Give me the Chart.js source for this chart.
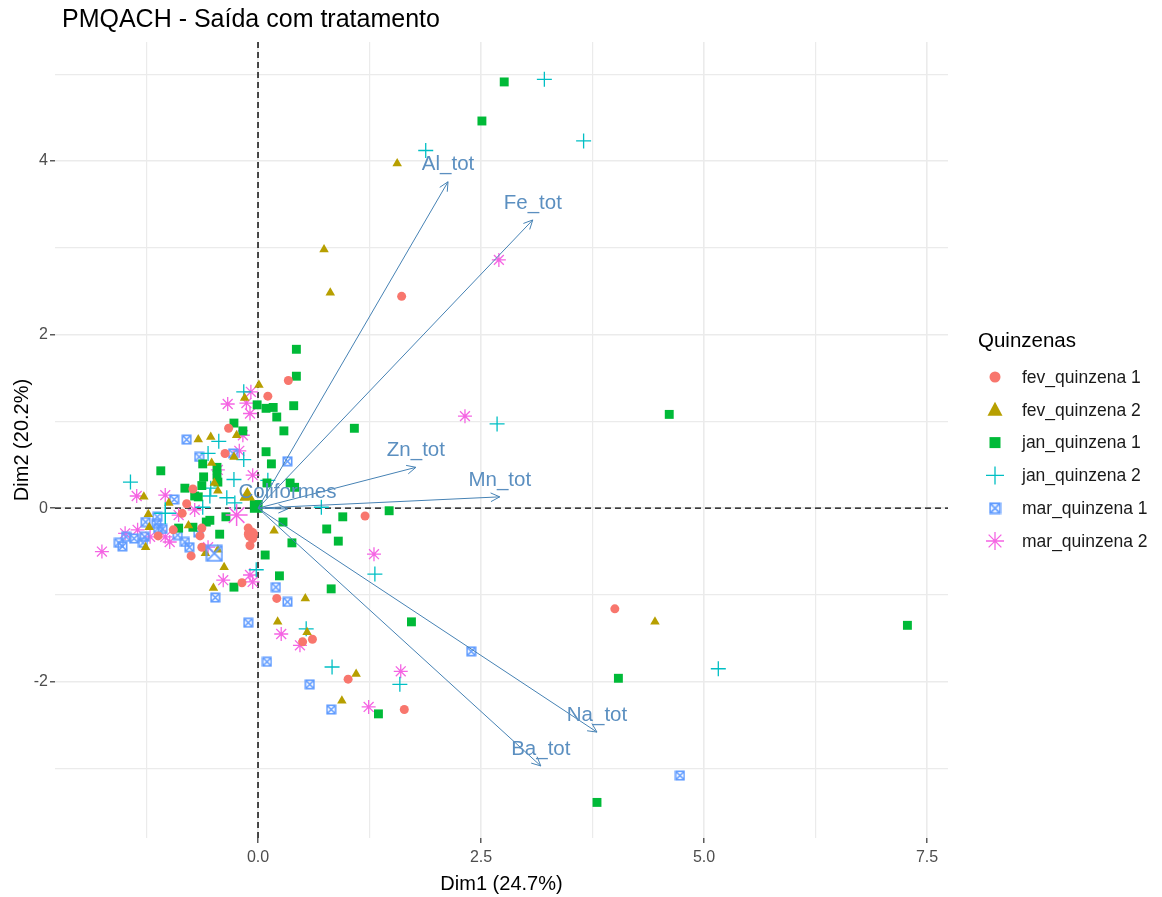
<!DOCTYPE html>
<html>
<head>
<meta charset="utf-8">
<script src="https://cdn.jsdelivr.net/npm/chart.js@4"></script>
<style>
  html, body { margin: 0; padding: 0; background: #fff; }
</style>
</head>
<body>
<canvas id="myChart" width="1162" height="897"></canvas>
<script>
// groups (legend order)
var groupNames = ["fev_quinzena 1", "fev_quinzena 2", "jan_quinzena 1", "jan_quinzena 2", "mar_quinzena 1", "mar_quinzena 2"];
var groupColors = ["#F8766D", "#B79F00", "#00BA38", "#00BFC4", "#619CFF", "#F564E3"];

// individuals, [Dim1, Dim2]
var fev1 = [[1.61,2.44],[0.34,1.47],[0.11,1.29],[-0.33,0.92],[-0.37,0.63],[-0.73,0.22],[-0.80,0.05],[-0.85,-0.06],
  [-0.63,-0.23],[-0.65,-0.32],[-0.63,-0.45],[-0.75,-0.55],[-1.12,-0.32],[-0.95,-0.25],[-0.18,-0.86],[-0.11,-0.23],
  [-0.07,-0.29],[-0.06,-0.35],[-0.09,-0.43],[1.20,-0.09],[0.21,-1.04],[0.61,-1.51],[0.50,-1.54],[1.01,-1.97],
  [1.64,-2.32],[4.00,-1.16]];
var fev2 = [[1.56,3.97],[0.74,2.98],[0.81,2.48],[0.01,1.42],[-0.15,1.27],[-0.24,0.84],[-0.67,0.79],[-0.53,0.82],
  [-0.27,0.59],[-0.52,0.52],[-0.49,0.29],[-0.45,0.20],[-0.15,0.12],[-1.28,0.13],[-1.00,0.06],[-1.23,-0.07],
  [-1.22,-0.22],[-1.26,-0.45],[-0.78,-0.20],[-0.59,-0.52],[-0.45,-0.48],[-0.38,-0.68],[-0.50,-0.92],[0.18,-0.26],
  [0.53,-1.04],[0.22,-1.31],[0.55,-1.43],[1.10,-1.91],[0.94,-2.22],[4.45,-1.31]];
var jan1 = [[2.76,4.91],[2.51,4.46],[0.43,1.83],[0.43,1.52],[-0.01,1.19],[0.09,1.15],[0.17,1.16],[0.40,1.18],
  [0.21,1.05],[-0.27,0.98],[-0.17,0.89],[0.29,0.89],[1.08,0.92],[0.09,0.65],[0.15,0.51],[-1.09,0.43],
  [-0.62,0.51],[-0.46,0.47],[-0.46,0.38],[-0.45,0.30],[-0.61,0.36],[-0.63,0.26],[-0.82,0.23],[-0.71,0.14],
  [-0.67,0.13],[0.10,0.29],[0.36,0.29],[0.41,0.24],[-0.36,-0.10],[-0.58,-0.16],[-0.54,-0.14],[-0.89,-0.23],
  [-0.73,-0.22],[-0.43,-0.30],[-0.27,-0.91],[0.08,-0.54],[0.28,-0.16],[0.38,-0.40],[0.95,-0.10],[0.77,-0.24],
  [0.90,-0.38],[1.47,-0.03],[0.24,-0.78],[0.82,-0.93],[1.72,-1.31],[1.35,-2.37],[4.61,1.08],[7.28,-1.35],
  [4.04,-1.96],[3.80,-3.39]];
var jan2 = [[3.21,4.94],[3.65,4.23],[1.88,4.12],[2.68,0.97],[5.16,-1.85],[-0.16,1.34],[-0.44,0.77],[-0.56,0.63],
  [-0.16,0.56],[-0.27,0.33],[0.11,0.32],[-0.54,0.14],[-0.35,0.12],[-0.26,0.06],[-0.62,0.01],[-0.53,0.23],
  [-1.43,0.30],[0.71,0.01],[1.31,-0.76],[-0.02,-0.71],[0.54,-1.39],[0.83,-1.83],[1.59,-2.03]];
var mar1 = [[0.33,0.54],[-0.28,0.63],[-0.80,0.79],[-0.66,0.59],[-0.94,0.10],[-1.13,-0.10],[-1.26,-0.16],[-1.14,-0.18],
  [-1.12,-0.23],[-1.07,-0.24],[-1.48,-0.33],[-1.56,-0.40],[-1.52,-0.44],[-1.39,-0.35],[-1.27,-0.33],[-1.29,-0.40],
  [-0.90,-0.31],[-0.82,-0.39],[-0.77,-0.45],[-0.67,-0.28],[-0.48,-1.03],[0.20,-0.91],[0.33,-1.08],[-0.11,-1.32],
  [0.10,-1.77],[0.58,-2.03],[0.82,-2.32],[2.39,-1.65],[4.73,-3.08]];
var mar2 = [[2.70,2.86],[2.32,1.06],[-0.08,1.34],[-0.34,1.20],[-0.13,1.21],[-0.09,1.09],[-0.17,0.84],[-0.21,0.66],
  [-0.45,0.44],[-0.06,0.38],[-1.36,0.14],[-1.04,0.15],[-0.89,-0.08],[-0.71,-0.02],[-1.35,-0.25],[-1.49,-0.29],
  [-1.21,-0.33],[-1.04,-0.33],[-0.99,-0.39],[-1.75,-0.50],[-0.56,-0.45],[-0.39,-0.83],[-0.09,-0.77],[-0.06,-0.85],
  [1.30,-0.53],[0.26,-1.45],[0.47,-1.58],[1.60,-1.88],[1.24,-2.29]];
var groupData = [fev1, fev2, jan1, jan2, mar1, mar2];

// group mean points
var meanX = [-0.08, -0.12, -0.02, -1.04, -0.49, -0.24];
var meanY = [-0.30, 0.14, 0.02, -0.06, -0.52, -0.08];

// variables (arrows)
var varNames = ["Al_tot", "Fe_tot", "Zn_tot", "Mn_tot", "Coliformes", "Na_tot", "Ba_tot"];
var varX = [2.13, 3.08, 1.77, 2.71, 0.33, 3.80, 3.17];
var varY = [3.76, 3.32, 0.47, 0.13, -0.01, -2.58, -2.97];

// axis ticks
var xTicks = [-1.25, 0, 1.25, 2.5, 3.75, 5, 6.25, 7.5];
var xLabels = ["", "0.0", "", "2.5", "", "5.0", "", "7.5"];
var yTicks = [-3, -2, -1, 0, 1, 2, 3, 4, 5];
var yLabels = ["", "-2", "", "0", "", "2", "", "4", ""];

var FONT = "'Liberation Sans', Arial, sans-serif";
var ARROW = "#4682B4";

// ⊠ shape for mar_quinzena 1
function squareCross(size, color, lw) {
  var c = document.createElement("canvas");
  c.width = size; c.height = size;
  var g = c.getContext("2d");
  g.strokeStyle = color; g.lineWidth = lw;
  var p = lw / 2 + 0.5;
  g.strokeRect(p, p, size - 2 * p, size - 2 * p);
  g.beginPath();
  g.moveTo(p, p); g.lineTo(size - p, size - p);
  g.moveTo(size - p, p); g.lineTo(p, size - p);
  g.stroke();
  return c;
}

var smallStyles = ["circle", "triangle", "rect", "cross", squareCross(11, groupColors[4], 1.6), "star"];
var bigStyles = ["circle", "triangle", "rect", "cross", squareCross(18, groupColors[4], 1.8), "star"];
var smallRadius = [4.5, 5.5, 6.3, 7.5, 6, 7];
var bigRadius = [7, 9, 9, 11, 9, 11];
var strokeOnly = [false, false, false, true, true, true];

var datasets = [];
// arrows on top
for (let i = 0; i < varNames.length; i++) {
  datasets.push({
    label: "var_" + varNames[i],
    data: [{ x: 0, y: 0 }, { x: varX[i], y: varY[i] }],
    showLine: true,
    borderColor: ARROW,
    borderWidth: 1,
    pointRadius: 0,
    order: 0
  });
}
for (let g = 0; g < groupNames.length; g++) {
  datasets.push({
    label: groupNames[g],
    data: groupData[g].map(function (p) { return { x: p[0], y: p[1] }; }),
    pointStyle: smallStyles[g],
    pointRadius: smallRadius[g],
    pointBackgroundColor: groupColors[g],
    pointBorderColor: groupColors[g],
    pointBorderWidth: strokeOnly[g] ? 1.3 : 0,
    showLine: false,
    order: 2
  });
  datasets.push({
    label: "mean_" + groupNames[g],
    data: [{ x: meanX[g], y: meanY[g] }],
    pointStyle: bigStyles[g],
    pointRadius: bigRadius[g],
    pointBackgroundColor: groupColors[g],
    pointBorderColor: groupColors[g],
    pointBorderWidth: strokeOnly[g] ? 1.5 : 0,
    showLine: false,
    order: 1
  });
}

function drawShape(ctx, g, x, y) {
  ctx.save();
  ctx.fillStyle = groupColors[g];
  ctx.strokeStyle = groupColors[g];
  ctx.lineWidth = 1.3;
  ctx.beginPath();
  if (g === 0) { ctx.arc(x, y, 5.5, 0, Math.PI * 2); ctx.fill(); }
  else if (g === 1) {
    ctx.moveTo(x, y - 8); ctx.lineTo(x + 7.5, y + 6); ctx.lineTo(x - 7.5, y + 6); ctx.closePath(); ctx.fill();
  }
  else if (g === 2) { ctx.rect(x - 5.5, y - 5.5, 11, 11); ctx.fill(); }
  else if (g === 3) {
    ctx.moveTo(x - 9, y); ctx.lineTo(x + 9, y); ctx.moveTo(x, y - 9); ctx.lineTo(x, y + 9); ctx.stroke();
  }
  else if (g === 4) {
    ctx.drawImage(smallStyles[4], x - 6.5, y - 6.5, 13, 13);
  }
  else {
    for (let k = 0; k < 4; k++) {
      var a = k * Math.PI / 4;
      ctx.moveTo(x - 9 * Math.cos(a), y - 9 * Math.sin(a));
      ctx.lineTo(x + 9 * Math.cos(a), y + 9 * Math.sin(a));
    }
    ctx.stroke();
  }
  ctx.restore();
}

var biplotExtras = {
  id: "biplotExtras",
  beforeDatasetsDraw: function (chart) {
    var ctx = chart.ctx, a = chart.chartArea;
    var xs = chart.scales.x, ys = chart.scales.y;
    var x0 = xs.getPixelForValue(0), y0 = ys.getPixelForValue(0);
    ctx.save();
    ctx.strokeStyle = "#000";
    ctx.lineWidth = 1.4;
    ctx.setLineDash([6, 4]);
    ctx.beginPath();
    ctx.moveTo(a.left, y0); ctx.lineTo(a.right, y0);
    ctx.moveTo(x0, a.top); ctx.lineTo(x0, a.bottom);
    ctx.stroke();
    ctx.restore();
  },
  afterDatasetsDraw: function (chart) {
    var ctx = chart.ctx;
    var xs = chart.scales.x, ys = chart.scales.y;
    var ox = xs.getPixelForValue(0), oy = ys.getPixelForValue(0);
    ctx.save();
    ctx.strokeStyle = ARROW;
    ctx.lineWidth = 1;
    for (let i = 0; i < varNames.length; i++) {
      var tx = xs.getPixelForValue(varX[i]), ty = ys.getPixelForValue(varY[i]);
      var ang = Math.atan2(ty - oy, tx - ox);
      ctx.beginPath();
      ctx.moveTo(tx - 10 * Math.cos(ang - 0.45), ty - 10 * Math.sin(ang - 0.45));
      ctx.lineTo(tx, ty);
      ctx.lineTo(tx - 10 * Math.cos(ang + 0.45), ty - 10 * Math.sin(ang + 0.45));
      ctx.stroke();
    }
    ctx.fillStyle = "#5B8FC0";
    ctx.font = "20.5px " + FONT;
    ctx.textAlign = "center";
    ctx.textBaseline = "middle";
    for (let i = 0; i < varNames.length; i++) {
      var lx = xs.getPixelForValue(varX[i]), ly = ys.getPixelForValue(varY[i]);
      ctx.fillText(varNames[i], lx, ly - 17);
    }
    ctx.restore();
  },
  afterDraw: function (chart) {
    var ctx = chart.ctx;
    ctx.save();
    // title
    ctx.fillStyle = "#000";
    ctx.font = "25px " + FONT;
    ctx.textAlign = "left";
    ctx.textBaseline = "alphabetic";
    ctx.fillText("PMQACH - Saída com tratamento", 62, 27);
    // legend
    ctx.font = "20.5px " + FONT;
    ctx.fillStyle = "#000";
    ctx.fillText("Quinzenas", 978, 347);
    ctx.font = "17.5px " + FONT;
    ctx.textBaseline = "middle";
    for (let g = 0; g < groupNames.length; g++) {
      var ly = 377 + g * 32.8;
      drawShape(ctx, g, 995, ly);
      ctx.fillStyle = "#1a1a1a";
      ctx.fillText(groupNames[g], 1022, ly + 1);
    }
    ctx.restore();
  }
};

function isMajor(labels, ticks, v) {
  return !!labels[ticks.indexOf(v)];
}

var config = {
  type: "scatter",
  data: { datasets: datasets },
  options: {
    responsive: false,
    animation: false,
    devicePixelRatio: 1,
    layout: { padding: { left: 0, right: 214, top: 42, bottom: 0 } },
    plugins: { legend: { display: false }, tooltip: { enabled: false }, title: { display: false } },
    scales: {
      x: {
        type: "linear",
        min: -2.276,
        max: 7.735,
        afterFit: function (s) { s.height = 59; },
        afterBuildTicks: function (s) { s.ticks = xTicks.map(function (v) { return { value: v }; }); },
        border: { display: false },
        grid: {
          color: "#EBEBEB",
          lineWidth: function (c) { return isMajor(xLabels, xTicks, c.tick.value) ? 1.6 : 1.2; },
          tickColor: function (c) { return isMajor(xLabels, xTicks, c.tick.value) ? "#333" : "rgba(0,0,0,0)"; },
          tickLength: 5,
          tickWidth: 1.2
        },
        ticks: {
          autoSkip: false,
          maxRotation: 0,
          padding: 5,
          color: "#4D4D4D",
          font: { family: FONT, size: 16 },
          callback: function (v) { return xLabels[xTicks.indexOf(v)]; }
        },
        title: {
          display: true,
          text: "Dim1 (24.7%)",
          color: "#000",
          font: { family: FONT, size: 20 },
          padding: { top: 0, bottom: 1 }
        }
      },
      y: {
        type: "linear",
        min: -3.80,
        max: 5.37,
        afterFit: function (s) { s.width = 55; },
        afterBuildTicks: function (s) { s.ticks = yTicks.map(function (v) { return { value: v }; }); },
        border: { display: false },
        grid: {
          color: "#EBEBEB",
          lineWidth: function (c) { return isMajor(yLabels, yTicks, c.tick.value) ? 1.6 : 1.2; },
          tickColor: function (c) { return isMajor(yLabels, yTicks, c.tick.value) ? "#333" : "rgba(0,0,0,0)"; },
          tickLength: 5,
          tickWidth: 1.2
        },
        ticks: {
          autoSkip: false,
          padding: 2,
          color: "#4D4D4D",
          font: { family: FONT, size: 16 },
          callback: function (v) { return yLabels[yTicks.indexOf(v)]; }
        },
        title: {
          display: true,
          text: "Dim2 (20.2%)",
          color: "#000",
          font: { family: FONT, size: 20 },
          padding: { top: 10, bottom: 0 }
        }
      }
    }
  },
  plugins: [biplotExtras]
};

var myChart = new Chart(document.getElementById("myChart"), config);
</script>
</body>
</html>
